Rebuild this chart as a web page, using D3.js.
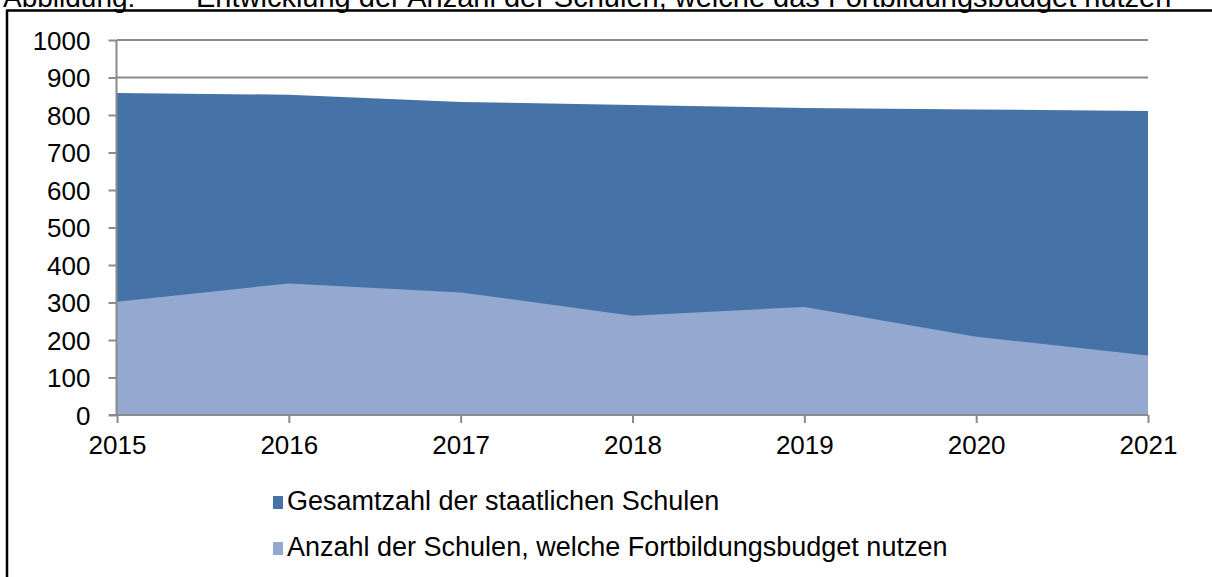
<!DOCTYPE html>
<html>
<head>
<meta charset="utf-8">
<script src="https://cdn.jsdelivr.net/npm/d3@7"></script>
<style>
  body { margin: 0; background: #fff; }
  svg text { font-family: "Liberation Sans", Arial, sans-serif; fill: #000; }
</style>
</head>
<body>
<svg id="chart"></svg>
<script>
// data
const years = [2015, 2016, 2017, 2018, 2019, 2020, 2021];
const totalSchools = [859, 854, 835, 827, 819, 815, 811];
const budgetSchools = [302, 351, 327, 265, 288, 209, 159];
const yTicks = [0, 100, 200, 300, 400, 500, 600, 700, 800, 900, 1000];
const seriesNames = ["Gesamtzahl der staatlichen Schulen", "Anzahl der Schulen, welche Fortbildungsbudget nutzen"];
const seriesColors = ["#4573a7", "#95a9d0"];

const width = 1212;
const height = 577;
const plot = { left: 117, right: 1148, top: 40, bottom: 415 };
const axisGray = "#8a8a8a";

const svg = d3.select("svg#chart").attr("width", width).attr("height", height);

// title, clipped at the top of the page
svg.append("text").attr("x", 3).attr("y", 7).attr("font-size", 28).text("Abbildung:");
svg.append("text").attr("x", 196).attr("y", 7).attr("font-size", 29)
  .text("Entwicklung der Anzahl der Schulen, welche das Fortbildungsbudget nutzen");

// frame (left and top edges only visible)
svg.append("line").attr("x1", 7).attr("x2", 7).attr("y1", 10).attr("y2", height)
  .attr("stroke", "#000").attr("stroke-width", 2.5);
svg.append("line").attr("x1", 6).attr("x2", width).attr("y1", 10.5).attr("y2", 10.5)
  .attr("stroke", "#000").attr("stroke-width", 2.5);

const x = d3.scaleLinear().domain([2015, 2021]).range([plot.left, plot.right]);
const y = d3.scaleLinear().domain([0, 1000]).range([plot.bottom, plot.top]);

// gridlines
svg.append("g").selectAll("line").data(yTicks.filter(d => d > 0)).enter().append("line")
  .attr("x1", plot.left).attr("x2", plot.right)
  .attr("y1", d => y(d)).attr("y2", d => y(d))
  .attr("stroke", axisGray).attr("stroke-width", 2);

// overlapping areas (not stacked)
const area = vals => d3.area()
  .x((d, i) => x(years[i]))
  .y0(y(0))
  .y1(d => y(d))(vals);

svg.append("path").attr("d", area(totalSchools)).attr("fill", seriesColors[0]);
svg.append("path").attr("d", area(budgetSchools)).attr("fill", seriesColors[1]);

// y axis
const yAxis = svg.append("g").attr("transform", "translate(" + (plot.left - 0.5) + ",0)")
  .call(d3.axisLeft(y).tickValues(yTicks).tickSize(8).tickPadding(18).tickFormat(d3.format("d")));
yAxis.select(".domain").attr("stroke", axisGray).attr("stroke-width", 2).attr("d", "M0," + plot.top + "V" + plot.bottom);
yAxis.selectAll(".tick line").attr("stroke", axisGray).attr("stroke-width", 2);
yAxis.selectAll(".tick text").attr("font-size", 26).attr("dy", "0.36em");

// x axis
const xAxis = svg.append("g").attr("transform", "translate(0," + plot.bottom + ")")
  .call(d3.axisBottom(x).tickValues(years).tickSize(8).tickPadding(13).tickFormat(d3.format("d")));
xAxis.select(".domain").attr("stroke", axisGray).attr("stroke-width", 2).attr("d", "M" + (plot.left - 8) + ",0H" + plot.right);
xAxis.selectAll(".tick line").attr("stroke", axisGray).attr("stroke-width", 2);
xAxis.selectAll(".tick text").attr("font-size", 26);
svg.selectAll(".tick text").style("font-family", "'Liberation Sans', Arial, sans-serif").attr("fill", "#000");

// legend
const legend = svg.append("g");
const items = legend.selectAll("g").data(seriesNames).enter().append("g")
  .attr("transform", (d, i) => "translate(273," + (496 + i * 46) + ")");
items.append("rect").attr("width", 10).attr("height", 13)
  .attr("fill", (d, i) => seriesColors[i]);
items.append("text").attr("x", 14).attr("y", 14).attr("font-size", 27).text(d => d);
</script>
</body>
</html>
